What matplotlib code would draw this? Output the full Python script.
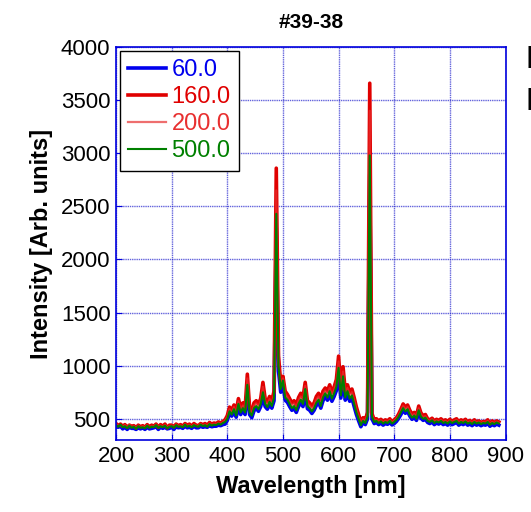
import matplotlib.pyplot as plt
import numpy as np
from matplotlib.ticker import MultipleLocator

plt.rcParams['font.family'] = ['Liberation Sans', 'DejaVu Sans']

# wavelength sampling grid [nm]
wavelength = np.arange(200, 889, 4)

# intensity, 60.0
s060 = [425, 420, 430, 405, 420, 400, 420, 410, 410, 400,
        415, 405, 415, 400, 420, 405, 410, 415, 425, 400,
        420, 410, 420, 405, 410, 420, 400, 425, 415, 420,
        410, 430, 415, 420, 410, 430, 415, 415, 430, 420,
        425, 420, 435, 425, 430, 430, 440, 435, 445, 450,
        485, 550, 525, 565, 515, 610, 540, 580, 540, 780,
        540, 510, 575, 600, 570, 615, 715, 615, 590, 635,
        600, 670, 2300, 950, 750, 820, 675, 655, 615, 580,
        595, 560, 615, 655, 615, 745, 595, 580, 550, 580,
        625, 655, 600, 670, 710, 675, 725, 665, 710, 765,
        935, 695, 860, 675, 730, 665, 695, 615, 540, 480,
        425, 465, 445, 500, 2800, 500, 455, 465, 445, 460,
        440, 455, 448, 465, 442, 455, 475, 505, 540, 580,
        552, 570, 525, 495, 512, 485, 560, 505, 485, 495,
        465, 455, 470, 445, 460, 450, 465, 445, 455, 440,
        460, 445, 455, 465, 440, 455, 445, 460, 440, 450,
        435, 455, 440, 450, 435, 445, 440, 455, 430, 445,
        435, 450, 440]

# intensity, 160.0
s160 = [455, 435, 450, 430, 445, 420, 440, 430, 435, 415,
        440, 425, 435, 420, 445, 425, 440, 430, 450, 420,
        445, 430, 450, 415, 440, 440, 425, 450, 435, 445,
        430, 455, 440, 450, 430, 455, 440, 435, 455, 445,
        455, 440, 465, 450, 460, 455, 470, 460, 475, 490,
        530, 610, 580, 630, 570, 690, 600, 650, 600, 920,
        610, 570, 650, 670, 640, 690, 843, 690, 660, 710,
        670, 760, 2860, 1090, 840, 900, 760, 730, 690, 650,
        670, 630, 700, 740, 700, 843, 670, 650, 620, 650,
        710, 740, 680, 760, 790, 760, 820, 750, 800, 870,
        1090, 780, 990, 760, 820, 750, 780, 700, 610, 540,
        470, 510, 490, 560, 3660, 550, 490, 500, 480, 495,
        475, 490, 480, 500, 470, 490, 510, 545, 590, 640,
        610, 630, 580, 545, 560, 530, 620, 555, 530, 540,
        500, 490, 505, 480, 495, 485, 500, 480, 490, 475,
        495, 475, 490, 500, 470, 490, 480, 495, 470, 485,
        465, 490, 470, 480, 465, 475, 470, 490, 455, 480,
        465, 480, 470]

# intensity, 200.0
s200 = [450, 430, 440, 425, 440, 415, 445, 420, 430, 410,
        435, 420, 430, 415, 440, 420, 430, 425, 445, 420,
        435, 425, 440, 420, 430, 435, 420, 445, 430, 435,
        425, 450, 430, 440, 425, 445, 435, 430, 450, 435,
        445, 430, 455, 440, 450, 445, 460, 450, 465, 480,
        515, 590, 560, 610, 550, 665, 580, 625, 580, 880,
        585, 550, 625, 645, 615, 665, 800, 665, 635, 685,
        645, 730, 2650, 1040, 810, 880, 730, 705, 665, 625,
        645, 605, 670, 710, 670, 810, 645, 625, 595, 625,
        680, 710, 650, 730, 765, 730, 790, 720, 770, 835,
        1040, 750, 945, 730, 790, 720, 750, 670, 585, 520,
        455, 495, 475, 540, 3400, 535, 480, 490, 470, 485,
        465, 480, 470, 490, 462, 480, 500, 532, 575, 620,
        590, 610, 560, 528, 545, 515, 600, 538, 515, 525,
        490, 480, 495, 470, 485, 475, 490, 470, 480, 465,
        485, 468, 480, 490, 462, 480, 470, 485, 462, 475,
        458, 480, 462, 472, 458, 468, 462, 480, 450, 470,
        458, 472, 462]

# intensity, 500.0
s500 = [440, 425, 445, 420, 430, 410, 435, 415, 425, 405,
        430, 415, 420, 410, 435, 415, 425, 420, 440, 415,
        430, 420, 435, 410, 425, 430, 415, 440, 425, 430,
        420, 445, 425, 435, 420, 440, 430, 425, 445, 430,
        440, 425, 450, 435, 445, 440, 455, 445, 460, 470,
        500, 570, 540, 590, 530, 640, 560, 600, 560, 820,
        560, 530, 600, 620, 590, 640, 750, 640, 610, 660,
        620, 700, 2430, 1000, 780, 860, 700, 680, 640, 600,
        620, 580, 640, 680, 640, 780, 620, 600, 570, 600,
        650, 680, 620, 700, 740, 700, 760, 690, 740, 800,
        980, 720, 900, 700, 760, 690, 720, 640, 560, 500,
        440, 480, 460, 520, 2980, 520, 470, 480, 460, 475,
        455, 470, 460, 480, 455, 470, 490, 520, 560, 600,
        570, 590, 540, 510, 530, 500, 580, 520, 500, 510,
        480, 470, 485, 460, 475, 465, 480, 460, 470, 455,
        475, 460, 470, 480, 455, 470, 460, 475, 455, 465,
        450, 470, 455, 465, 450, 460, 455, 470, 445, 460,
        450, 465, 455]

blue = '#0000dd'

fig = plt.figure(figsize=(5.31, 5.12), dpi=100)
ax = fig.add_axes([0.2185, 0.1406, 0.7335, 0.7674])

ax.plot(wavelength, s060, color='#0000ee', linewidth=2.6, label='60.0')
ax.plot(wavelength, s160, color='#e00000', linewidth=2.6, label='160.0')
ax.plot(wavelength, s200, color='#e83030', linewidth=1.6, alpha=0.7, label='200.0')
ax.plot(wavelength, s500, color='#008000', linewidth=1.5, label='500.0')

ax.set_xlim(200, 900)
ax.set_ylim(300, 4000)
ax.xaxis.set_major_locator(MultipleLocator(100))
ax.set_yticks(np.arange(500, 4001, 500))

ax.grid(True, color='#2222cc', linestyle=(0, (1, 0.6)), linewidth=1.0, alpha=0.7)
for sp in ax.spines.values():
    sp.set_color(blue)
    sp.set_linewidth(1.2)
ax.tick_params(axis='both', which='major', labelsize=16, direction='in',
               color=blue, length=4, pad=4)

ax.set_xlabel('Wavelength [nm]', fontsize=17, fontweight='bold', labelpad=6)
ax.set_ylabel('Intensity [Arb. units]', fontsize=17, fontweight='bold', labelpad=6)
ax.set_title('#39-38', fontsize=15, fontweight='bold', pad=14)

leg = ax.legend(loc='upper left', fontsize=17, fancybox=False, framealpha=1,
                edgecolor='black', borderaxespad=0.15, handlelength=1.6,
                handletextpad=0.25, labelspacing=0.22, borderpad=0.35)
leg.get_frame().set_linewidth(1.0)
for txt, ln in zip(leg.get_texts(), leg.get_lines()):
    txt.set_color(ln.get_color())

# labels cut off at the right edge, as in the original
fig.text(525 / 531, 1 - 60 / 512, 'D', fontsize=22, va='center', ha='left')
fig.text(525 / 531, 1 - 102 / 512, 'P', fontsize=22, va='center', ha='left')

plt.savefig('out.png', dpi=100)
